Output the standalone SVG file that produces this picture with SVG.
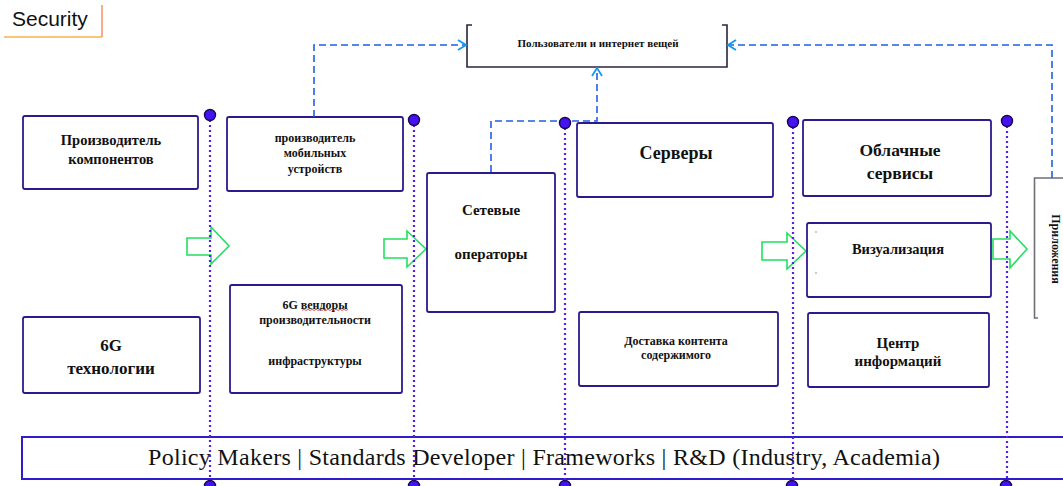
<svg xmlns="http://www.w3.org/2000/svg" width="1063" height="486" viewBox="0 0 1063 486">
  <defs>
    <style>
      .box { fill: #ffffff; stroke: #2c1a8c; stroke-width: 1.8; }
      .grey { fill: none; stroke: #6e6e78; stroke-width: 1.6; }
      .t { font-family: "Liberation Serif", "Times New Roman", serif; font-weight: bold; fill: #111; text-anchor: middle; }
      .dash { fill: none; stroke: #1f5fe4; stroke-width: 1.6; stroke-dasharray: 7 4; }
      .post { stroke: #5a1ee6; stroke-width: 2.2; stroke-dasharray: 2 3; }
      .dot { fill: #4512f2; stroke: #160850; stroke-width: 1.4; }
      .flow { fill: #ffffff; stroke: #22e060; stroke-width: 1.6; stroke-linejoin: miter; }
    </style>
    <marker id="open" viewBox="0 0 10 12" refX="9" refY="6" markerWidth="10" markerHeight="12" markerUnits="userSpaceOnUse" orient="auto">
      <polyline points="1,1 9,6 1,11" fill="none" stroke="#1598f2" stroke-width="1.8"/>
    </marker>
  </defs>

  <rect width="1063" height="486" fill="#ffffff"/>

  <!-- Security tab -->
  <g id="security">
    <text x="12" y="26" font-family="Liberation Sans, Arial, sans-serif" font-size="21" fill="#111">Security</text>
    <path d="M4,37 H102" stroke="#f7b24a" stroke-width="1.6" fill="none"/>
    <path d="M102,5 V37" stroke="#f28a5a" stroke-width="1.4" fill="none"/>
  </g>

  <!-- block flow arrows -->
  <g id="flow-arrows">
    <polygon class="flow" points="187,238 211,238 211,227 229,246 211,264 211,255 187,255"/>
    <polygon class="flow" points="384,239 407,239 407,231 426,249 407,267 407,258 384,258"/>
    <polygon class="flow" points="762,242 787,242 787,233 806,251 787,269 787,260 762,260"/>
    <polygon class="flow" points="993,239 1010,239 1010,231 1027,249 1010,268 1010,259 993,259"/>
  </g>

  <!-- nodes -->
  <g id="users-iot">
    <path d="M472,25 H467 V67 H727 V25 H722" fill="#ffffff" stroke="#2a2440" stroke-width="1.6"/>
    <text class="t" x="598" y="47" font-size="11">Пользователи и интернет вещей</text>
  </g>

  <g id="component-maker">
    <rect class="box" x="23" y="116" width="175" height="73" rx="2"/>
    <text class="t" x="111" y="145" font-size="14.5">Производитель</text>
    <text class="t" x="111" y="164" font-size="14.5">компонентов</text>
  </g>

  <g id="mobile-maker">
    <rect class="box" x="227" y="117" width="176" height="74" rx="2"/>
    <text class="t" x="315" y="142" font-size="12">производитель</text>
    <text class="t" x="315" y="157" font-size="12">мобильных</text>
    <text class="t" x="315" y="173" font-size="12">устройств</text>
  </g>

  <g id="network-operators">
    <rect class="box" x="427" y="173" width="128" height="139" rx="2"/>
    <text class="t" x="491" y="215" font-size="15">Сетевые</text>
    <text class="t" x="491" y="259" font-size="15">операторы</text>
  </g>

  <g id="servers">
    <rect class="box" x="577" y="123" width="196" height="74" rx="2"/>
    <text class="t" x="676" y="159" font-size="18">Серверы</text>
  </g>

  <g id="cloud-services">
    <rect class="box" x="803" y="120" width="188" height="76" rx="2"/>
    <text class="t" x="900" y="156" font-size="17.5">Облачные</text>
    <text class="t" x="900" y="179" font-size="17.5">сервисы</text>
  </g>

  <g id="visualization">
    <rect class="box" x="807" y="223" width="184" height="74" rx="2"/>
    <rect x="815.5" y="231.5" width="1" height="1" fill="#333"/>
    <rect x="815.5" y="272.5" width="1" height="1" fill="#333"/>
    <text class="t" x="898" y="254" font-size="14.5">Визуализация</text>
  </g>

  <g id="apps">
    <path class="grey" d="M1070,178 H1034.5 V318 H1038"/>
    <text class="t" font-size="12" transform="translate(1052,249) rotate(90)">Приложения</text>
  </g>

  <g id="tech-6g">
    <rect class="box" x="23" y="317" width="177" height="76" rx="2"/>
    <text class="t" x="111" y="351" font-size="17">6G</text>
    <text class="t" x="111" y="374" font-size="17">технологии</text>
  </g>

  <g id="vendors-6g">
    <rect class="box" x="230" y="285" width="172" height="108" rx="2"/>
    <text class="t" x="315" y="309" font-size="12">6G вендоры</text>
    <path d="M302,310.5 l2,-1.2 2,1.2 2,-1.2 2,1.2 2,-1.2 2,1.2 2,-1.2 2,1.2 2,-1.2 2,1.2 2,-1.2 2,1.2 2,-1.2 2,1.2 2,-1.2 2,1.2 2,-1.2 2,1.2 2,-1.2 2,1.2 2,-1.2 2,1.2 2,-1.2" fill="none" stroke="#e02828" stroke-width="0.8"/>
    <text class="t" x="315" y="324" font-size="12">производительности</text>
    <text class="t" x="315" y="365" font-size="12">инфраструктуры</text>
  </g>

  <g id="content-delivery">
    <rect class="box" x="579" y="312" width="199" height="74" rx="2"/>
    <text class="t" x="676" y="345" font-size="12">Доставка контента</text>
    <text class="t" x="676" y="359" font-size="12">содержимого</text>
  </g>

  <g id="data-center">
    <rect class="box" x="808" y="313" width="181" height="74" rx="2"/>
    <text class="t" x="898" y="348" font-size="15">Центр</text>
    <text class="t" x="898" y="366" font-size="15">информаций</text>
  </g>

  <g id="governance-bar">
    <rect x="22" y="437" width="1060" height="42" fill="#ffffff" stroke="#2e1cd0" stroke-width="2"/>
    <text x="148" y="465" font-family="Liberation Serif, 'Times New Roman', serif" font-size="24" fill="#111" textLength="792">Policy Makers | Standards Developer | Frameworks | R&amp;D (Industry, Academia)</text>
  </g>

  <!-- dashed links to the users / IoT box -->
  <g id="connectors">
    <path class="dash" d="M314,117 V45 H466" marker-end="url(#open)"/>
    <path class="dash" d="M1052,178 V45 H728" marker-end="url(#open)"/>
    <path class="dash" d="M491,172 V121 H597 V68" marker-end="url(#open)"/>
  </g>

  <!-- value-chain boundary posts -->
  <g id="posts">
    <line class="post" x1="210" y1="120" x2="210" y2="486"/>
    <line class="post" x1="414" y1="125" x2="414" y2="486"/>
    <line class="post" x1="565" y1="128" x2="565" y2="486"/>
    <line class="post" x1="793" y1="127" x2="793" y2="486"/>
    <line class="post" x1="1007" y1="126" x2="1007" y2="486"/>
    <circle class="dot" cx="210" cy="115" r="5.5"/>
    <circle class="dot" cx="414" cy="120" r="5.5"/>
    <circle class="dot" cx="565" cy="123" r="5.5"/>
    <circle class="dot" cx="793" cy="122" r="5.5"/>
    <circle class="dot" cx="1007" cy="121" r="5.5"/>
    <circle class="dot" cx="210" cy="486" r="5.5"/>
    <circle class="dot" cx="414" cy="486" r="5.5"/>
    <circle class="dot" cx="565" cy="486" r="5.5"/>
    <circle class="dot" cx="792" cy="486" r="5.5"/>
    <circle class="dot" cx="1006" cy="486" r="5.5"/>
  </g>
</svg>
